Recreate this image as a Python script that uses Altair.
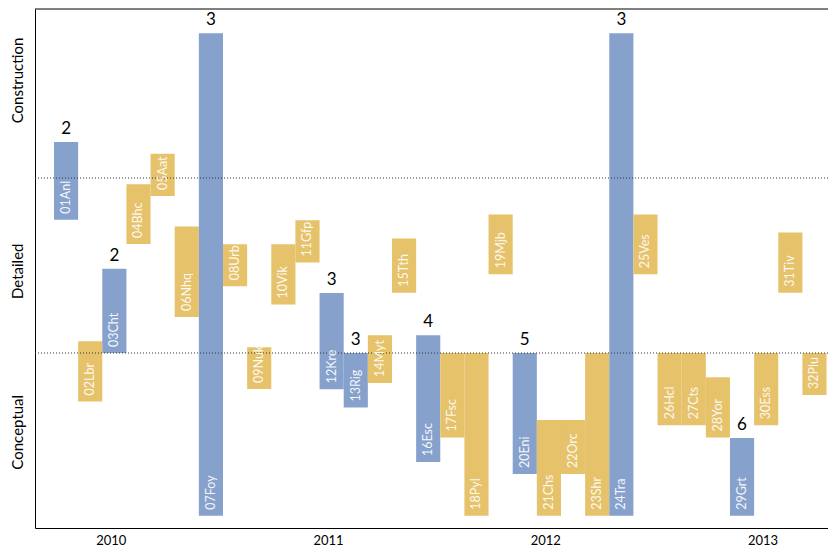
import altair as alt
import pandas as pd

# ---- data ----
names = ["01Anl", "02Lbr", "03Cht", "04Bhc", "05Aat", "06Nhq", "07Foy", "08Urb",
         "09Nuk", "10Vik", "11Gfp", "12Kre", "13Rig", "14Myt", "15Tth", "16Esc",
         "17Fsc", "18Pyl", "19Mjb", "20Eni", "21Chs", "22Orc", "23Shr", "24Tra",
         "25Ves", "26Hcl", "27Cts", "28Yor", "29Grt", "30Ess", "31Tiv", "32Plu"]
kinds = ["B", "G", "B", "G", "G", "G", "B", "G",
         "G", "G", "G", "B", "B", "G", "G", "B",
         "G", "G", "G", "B", "G", "G", "G", "B",
         "G", "G", "G", "G", "B", "G", "G", "G"]
tops = [2.206, 1.067, 1.482, 1.964, 2.139, 1.723, 2.827, 1.621,
        1.033, 1.621, 1.758, 1.343, 1.0, 1.101, 1.655, 1.101,
        1.0, 1.0, 1.791, 1.0, 0.617, 0.617, 1.0, 2.827,
        1.791, 1.0, 1.0, 0.861, 0.514, 1.0, 1.688, 1.0]
bottoms = [1.762, 0.723, 1.0, 1.623, 1.897, 1.206, 0.07, 1.381,
           0.794, 1.277, 1.517, 0.793, 0.688, 0.829, 1.345, 0.377,
           0.517, 0.07, 1.45, 0.309, 0.07, 0.309, 0.07, 0.07,
           1.45, 0.587, 0.587, 0.517, 0.07, 0.587, 1.345, 0.76]
counts = ["2", "", "2", "", "", "", "3", "",
          "", "", "", "3", "3", "", "", "4",
          "", "", "", "5", "", "", "", "3",
          "", "", "", "", "6", "", "", ""]
stage_labels = ["Conceptual", "Detailed", "Construction"]
stage_label_pos = [0.55, 1.47, 2.56]
years = [2010, 2011, 2012, 2013]
first_year_slot = 2.35
slots_per_year = 9.0

BLUE = "#87a1cd"
GOLD = "#e6c26b"
FONT = "Lato"

df = pd.DataFrame({
    "name": names, "kind": kinds, "top": tops, "bottom": bottoms, "count": counts,
})
df["slot"] = list(range(len(names)))
df["slot_end"] = df["slot"] + 1
df["mid"] = df["slot"] + 0.5

W, H = 793, 519
xscale = alt.Scale(domain=[-0.787, 32.06], nice=False, zero=False)
yscale = alt.Scale(domain=[0, H / 175.0], nice=False, zero=False)

year_vals = [first_year_slot + slots_per_year * (y - years[0]) for y in years]
year_expr = f"'' + round({years[0]} + (datum.value - {first_year_slot}) / {slots_per_year})"
stage_expr = (f"datum.value < 1 ? '{stage_labels[0]}' : "
              f"datum.value < 2 ? '{stage_labels[1]}' : '{stage_labels[2]}'")

base = alt.Chart(df)

bars = base.mark_rect().encode(
    x=alt.X("slot:Q", scale=xscale, title=None,
            axis=alt.Axis(values=year_vals, labelExpr=year_expr, ticks=False, grid=False,
                          domainColor="black", labelFontSize=13, labelPadding=6,
                          labelColor="black", labelFont=FONT)),
    x2="slot_end:Q",
    y=alt.Y("bottom:Q", scale=yscale, title=None,
            axis=alt.Axis(values=stage_label_pos, labelExpr=stage_expr, ticks=False, grid=False,
                          domainColor="black", labelFontSize=15, labelAngle=270,
                          labelAlign="center", labelBaseline="bottom", labelPadding=10,
                          labelColor="black", labelFont=FONT)),
    y2="top:Q",
    color=alt.Color("kind:N", scale=alt.Scale(domain=["B", "G"], range=[BLUE, GOLD]), legend=None),
)

names_txt = base.mark_text(angle=270, align="left", baseline="middle", dx=6,
                           fontSize=12.5, color="white", opacity=0.9, font=FONT).encode(
    x=alt.X("mid:Q", scale=xscale),
    y=alt.Y("bottom:Q", scale=yscale),
    text="name:N",
)

count_txt = base.mark_text(align="center", baseline="bottom", dy=-4,
                           fontSize=17, color="black", font=FONT).encode(
    x=alt.X("mid:Q", scale=xscale),
    y=alt.Y("top:Q", scale=yscale),
    text="count:N",
)

lines_df = pd.DataFrame({"y": [1.0, 2.0]})
dotted = alt.Chart(lines_df).mark_rule(color="#333333", strokeDash=[1, 2], strokeWidth=1).encode(
    y=alt.Y("y:Q", scale=yscale),
)

top_line = alt.Chart(pd.DataFrame({"a": [0]})).mark_rule(color="black", strokeWidth=1).encode(
    x=alt.value(0), x2=alt.value(W), y=alt.value(0),
)

chart = alt.layer(bars, dotted, names_txt, count_txt, top_line).properties(
    width=W, height=H, autosize="none",
    padding={"left": 27, "top": 1, "right": 0, "bottom": 24},
).configure_view(stroke=None)

chart.save("out.html", embed_options={"renderer": "svg", "actions": False})
